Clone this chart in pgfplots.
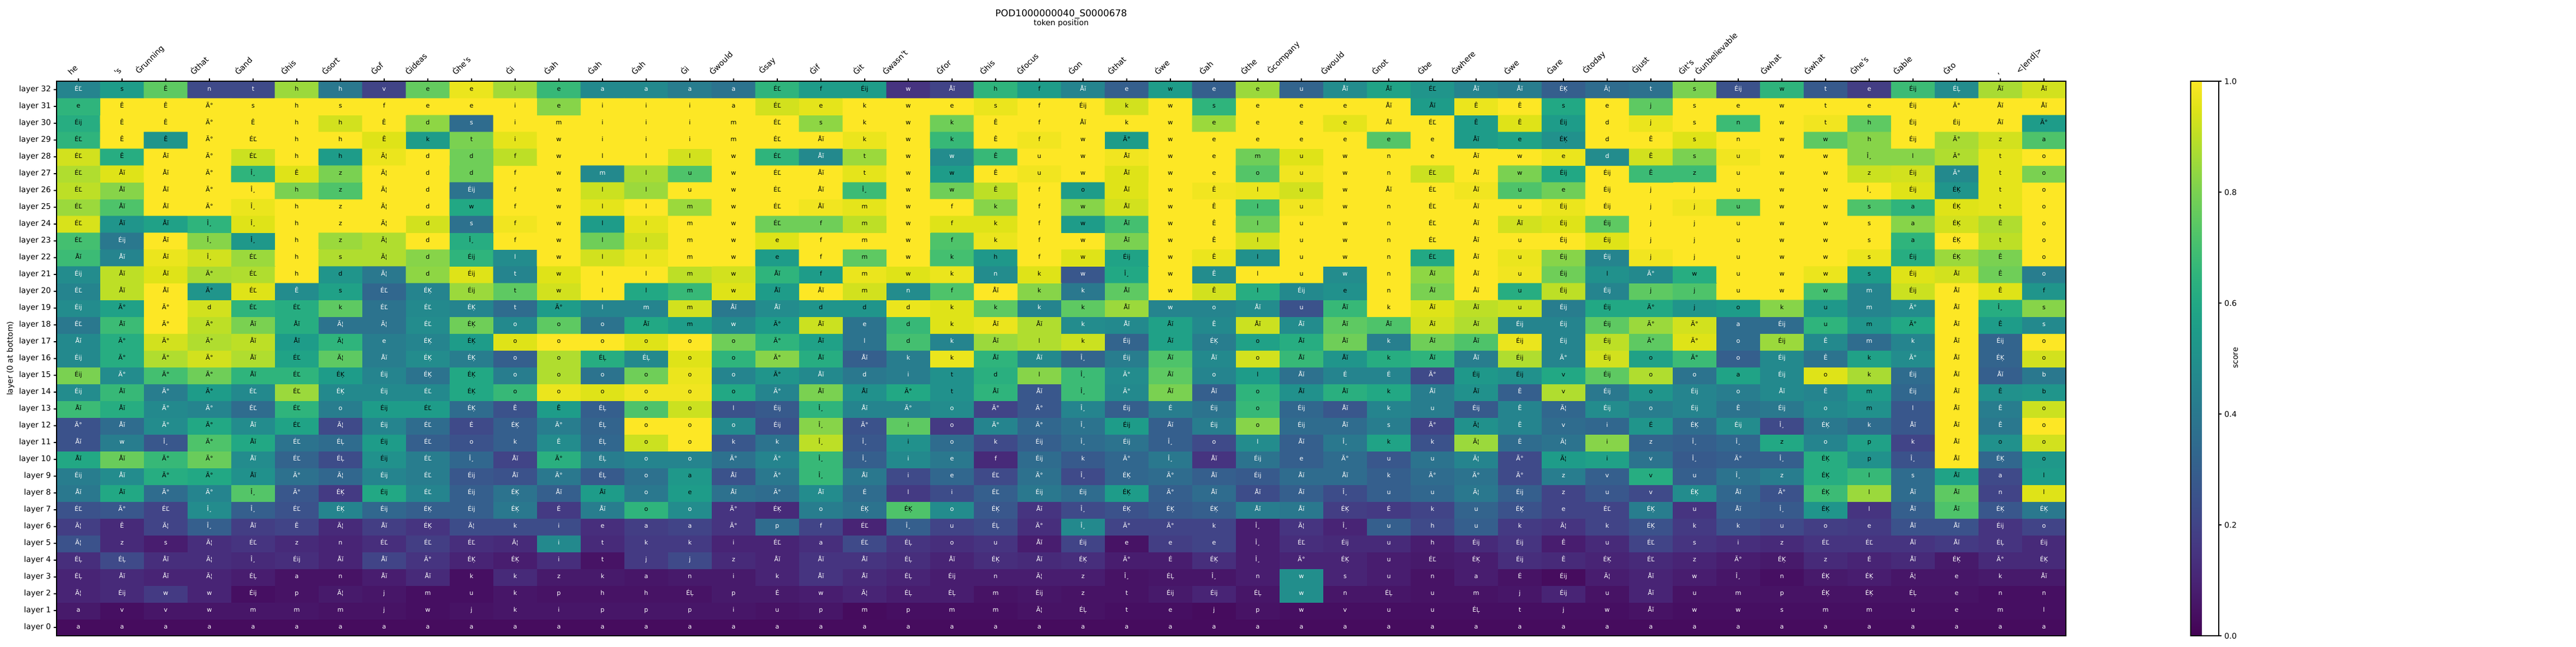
\documentclass[border=0pt]{standalone}
\usepackage{fontspec}
\setmainfont{DejaVu Sans}
\usepackage{graphicx}
\usepackage{pgfplots}
\usepackage{pgfplotstable}
\pgfplotsset{compat=1.18}
\newcommand\rl[1]{\rotatebox{45}{#1}}
\newcommand\ap{\textquotesingle}
\newcommand\cxe{\coordindex-46*floor((\coordindex+0.5)/46)}
\newcommand\cye{floor((\coordindex+0.5)/46)}
\pgfplotstableread[row sep=\\]{
v t\\%
.03 a\\.03 a\\.03 a\\.03 a\\.03 a\\.03 a\\.03 a\\.03 a\\.03 a\\.03 a\\.03 a\\.03 a\\.03 a\\.03 a\\.03 a\\.03 a\\.03 a\\.03 a\\.03 a\\.03 a\\.03 a\\.03 a\\.03 a\\.03 a\\.03 a\\.03 a\\.03 a\\.03 a\\.03 a\\.03 a\\.03 a\\.03 a\\.03 a\\.03 a\\.03 a\\.03 a\\.03 a\\.03 a\\.03 a\\.03 a\\.03 a\\.03 a\\.03 a\\.03 a\\.03 a\\.03 a\\%
.07 a\\.04 v\\.06 v\\.06 w\\.06 m\\.06 m\\.05 m\\.05 j\\.04 w\\.05 j\\.06 k\\.06 i\\.06 p\\.06 p\\.06 p\\.06 i\\.05 u\\.06 p\\.03 m\\.04 p\\.04 m\\.04 m\\.05 Ã¦\\.05 ÉĻ\\.04 t\\.04 e\\.03 j\\.05 p\\.04 w\\.04 v\\.04 u\\.04 u\\.04 ÉĻ\\.04 t\\.04 j\\.04 w\\.05 Åĭ\\.04 w\\.04 w\\.04 s\\.04 m\\.04 m\\.04 u\\.04 e\\.04 m\\.04 l\\%
.10 Ã¦\\.12 Éĳ\\.17 w\\.10 w\\.04 Éĳ\\.05 p\\.07 Ã¦\\.06 j\\.04 m\\.04 u\\.06 k\\.05 p\\.05 h\\.05 h\\.05 ÉĻ\\.07 p\\.07 É\\.08 w\\.10 Ã¦\\.08 ÉĻ\\.08 ÉĻ\\.05 m\\.06 Éĳ\\.05 z\\.05 t\\.07 Éĳ\\.10 Éĳ\\.06 ÉĻ\\.49 w\\.06 n\\.06 ÉĻ\\.05 u\\.05 m\\.06 j\\.10 Éĳ\\.05 u\\.10 Åĭ\\.05 u\\.05 m\\.05 p\\.05 ÉĶ\\.05 ÉĶ\\.05 ÉĻ\\.05 e\\.04 n\\.04 n\\%
.10 ÉĻ\\.12 Åĭ\\.10 Åĭ\\.10 Ã¦\\.08 ÉĻ\\.05 a\\.05 n\\.08 Åĭ\\.12 Åĭ\\.04 k\\.12 k\\.07 z\\.07 k\\.06 a\\.07 n\\.07 i\\.10 k\\.15 Åĭ\\.12 Åĭ\\.10 ÉĻ\\.08 Éĳ\\.08 n\\.08 Ã¦\\.08 z\\.05 Î¸\\.06 ÉĻ\\.06 Î¸\\.08 n\\.49 w\\.10 s\\.08 u\\.05 n\\.08 a\\.05 É\\.03 Éĳ\\.08 Ã¦\\.10 Åĭ\\.08 w\\.06 Î¸\\.04 n\\.07 ÉĶ\\.08 ÉĶ\\.06 Ã¦\\.06 e\\.07 k\\.07 Åĭ\\%
.13 ÉĻ\\.22 ÉĻ\\.13 Åĭ\\.13 Ã¦\\.12 Î¸\\.13 Éĳ\\.10 Åĭ\\.20 Åĭ\\.15 Ã°\\.10 ÉĶ\\.08 ÉĶ\\.13 i\\.05 t\\.17 j\\.22 j\\.12 z\\.10 Åĭ\\.15 Åĭ\\.15 Åĭ\\.13 ÉĻ\\.10 Åĭ\\.13 ÉĶ\\.12 Åĭ\\.13 ÉĶ\\.08 Ã°\\.08 É\\.13 ÉĶ\\.08 Î¸\\.10 Ã°\\.10 ÉĶ\\.08 u\\.07 ÉĽ\\.08 ÉĶ\\.13 Éĳ\\.12 Ê\\.10 ÉĶ\\.12 ÉĽ\\.10 z\\.08 Ã°\\.07 ÉĶ\\.12 z\\.10 É\\.12 Åĭ\\.07 ÉĶ\\.12 Ã°\\.12 ÉĶ\\%
.25 Ã¦\\.12 z\\.08 s\\.13 Ã¦\\.15 ÉĽ\\.12 z\\.10 n\\.13 ÉĽ\\.18 ÉĽ\\.13 ÉĽ\\.12 Ã¦\\.47 i\\.12 t\\.17 k\\.17 k\\.10 i\\.10 ÉĽ\\.13 a\\.22 ÉĽ\\.15 ÉĻ\\.13 o\\.15 u\\.08 Åĭ\\.20 Éĳ\\.05 e\\.18 e\\.20 e\\.08 Î¸\\.13 ÉĽ\\.12 Éĳ\\.12 u\\.08 h\\.12 Éĳ\\.15 Éĳ\\.08 Ê\\.12 u\\.20 ÉĽ\\.15 s\\.13 i\\.12 z\\.15 ÉĽ\\.15 ÉĽ\\.15 Åĭ\\.17 Åĭ\\.15 ÉĻ\\.12 Éĳ\\%
.18 Ã¦\\.12 Ê\\.20 Ã¦\\.30 Î¸\\.18 Åĭ\\.20 Ê\\.12 Ã¦\\.18 Åĭ\\.15 ÉĶ\\.23 Ã¦\\.23 k\\.23 i\\.13 e\\.18 a\\.20 a\\.15 Ã°\\.35 p\\.20 f\\.10 ÉĽ\\.30 Î¸\\.20 u\\.23 ÉĻ\\.13 Ã°\\.47 Î¸\\.20 Ã°\\.20 Ã°\\.20 k\\.08 Î¸\\.15 Ã¦\\.10 Î¸\\.30 u\\.22 h\\.30 u\\.17 k\\.15 Ã¦\\.20 k\\.25 ÉĶ\\.17 k\\.25 k\\.22 u\\.18 o\\.17 e\\.25 Åĭ\\.25 Åĭ\\.15 Éĳ\\.20 o\\%
.25 ÉĽ\\.27 Ã°\\.20 ÉĽ\\.48 Î¸\\.30 Î¸\\.25 ÉĽ\\.45 ÉĶ\\.33 Éĳ\\.30 ÉĶ\\.30 Éĳ\\.40 ÉĶ\\.17 É\\.42 Åĭ\\.65 o\\.48 o\\.15 Ã°\\.12 ÉĶ\\.42 o\\.38 ÉĶ\\.72 ÉĶ\\.48 o\\.27 ÉĶ\\.15 Åĭ\\.22 Î¸\\.25 ÉĶ\\.28 ÉĶ\\.30 ÉĶ\\.42 Åĭ\\.40 Åĭ\\.18 ÉĶ\\.17 É\\.20 k\\.32 u\\.25 ÉĶ\\.20 e\\.20 ÉĽ\\.42 ÉĶ\\.15 u\\.30 Åĭ\\.28 Î¸\\.52 ÉĶ\\.15 l\\.30 Åĭ\\.72 Åĭ\\.27 ÉĶ\\.40 ÉĶ\\%
.40 Åĭ\\.60 Åĭ\\.35 Ã°\\.45 Ã°\\.73 Î¸\\.27 Ã°\\.17 ÉĶ\\.60 Éĳ\\.45 ÉĽ\\.30 Éĳ\\.38 ÉĶ\\.30 Åĭ\\.55 Åĭ\\.40 o\\.55 e\\.37 Åĭ\\.35 Ã°\\.48 Åĭ\\.35 É\\.17 l\\.23 i\\.30 ÉĽ\\.40 Éĳ\\.35 Éĳ\\.55 ÉĶ\\.30 Ã°\\.35 Åĭ\\.23 Åĭ\\.30 Åĭ\\.23 Î¸\\.30 u\\.33 u\\.40 Ã¦\\.30 Éĳ\\.20 z\\.27 u\\.22 v\\.48 ÉĶ\\.33 Åĭ\\.25 Ã°\\.68 ÉĶ\\.85 l\\.35 Åĭ\\.75 Åĭ\\.20 n\\.95 l\\%
.42 Éĳ\\.48 Åĭ\\.62 Ã°\\.60 Ã°\\.50 Åĭ\\.37 Ã°\\.33 Ã¦\\.45 Éĳ\\.42 ÉĽ\\.27 Éĳ\\.25 Åĭ\\.40 Ã°\\.28 ÉĻ\\.37 o\\.53 a\\.25 Åĭ\\.40 Ã°\\.67 Î¸\\.40 Åĭ\\.22 i\\.33 e\\.22 ÉĽ\\.37 Ã°\\.22 Î¸\\.33 ÉĶ\\.35 Ã°\\.30 Åĭ\\.28 Éĳ\\.35 Åĭ\\.35 Åĭ\\.30 k\\.35 Ã°\\.38 Ã°\\.22 Ã°\\.42 z\\.30 v\\.62 v\\.30 u\\.38 Î¸\\.42 z\\.62 ÉĶ\\.67 l\\.35 s\\.58 Åĭ\\.22 a\\.55 l\\%
.60 Åĭ\\.77 Åĭ\\.67 Ã°\\.77 Ã°\\.48 Åĭ\\.32 ÉĽ\\.23 ÉĻ\\.50 Éĳ\\.42 ÉĽ\\.33 Î¸\\.20 Åĭ\\.63 Ã°\\.42 ÉĻ\\.45 o\\.45 o\\.37 Ã°\\.45 Ã°\\.67 Î¸\\.30 Î¸\\.47 i\\.40 e\\.12 f\\.35 Éĳ\\.28 k\\.33 Ã°\\.40 Î¸\\.15 Åĭ\\.38 Éĳ\\.30 e\\.35 Ã°\\.27 u\\.38 u\\.45 Ã¦\\.22 Ã°\\.55 Ã¦\\.57 i\\.38 v\\.28 Î¸\\.30 Ã°\\.30 Î¸\\.62 ÉĶ\\.50 p\\.25 Î¸\\1 Åĭ\\.33 ÉĶ\\.53 o\\%
.25 Åĭ\\.42 w\\.27 Î¸\\.72 Ã°\\.60 Åĭ\\.38 ÉĽ\\.35 ÉĻ\\.55 Éĳ\\.30 ÉĽ\\.25 o\\.30 k\\.48 Ê\\.33 ÉĻ\\.92 o\\1 o\\.27 k\\.38 k\\.90 Î¸\\.27 Î¸\\.50 i\\.35 o\\.22 k\\.30 Éĳ\\.35 Î¸\\.38 Éĳ\\.30 Î¸\\.22 o\\.48 l\\.30 Åĭ\\.40 Î¸\\.58 k\\.25 k\\.85 Ã¦\\.35 Ê\\.38 Ã¦\\.82 i\\.32 z\\.30 Î¸\\.33 Î¸\\.60 z\\.45 o\\.57 p\\.20 k\\1 Åĭ\\.50 o\\.93 o\\%
.25 Ã°\\.35 Åĭ\\.48 Ã°\\.60 Ã°\\.48 Åĭ\\.58 ÉĽ\\.22 Ã¦\\.45 Éĳ\\.35 ÉĽ\\.22 É\\.30 ÉĶ\\.42 Ã°\\.32 ÉĻ\\1 o\\1 o\\.47 o\\.25 Éĳ\\.82 Î¸\\.25 Ã°\\.75 i\\.17 o\\.45 Ã°\\.33 Ã°\\.38 Î¸\\.55 Éĳ\\.30 Åĭ\\.42 Éĳ\\.82 o\\.35 Éĳ\\.35 Åĭ\\.42 s\\.20 Ã°\\.50 Ã¦\\.45 Ê\\.35 v\\.33 i\\.52 É\\.35 ÉĶ\\.48 Éĳ\\.22 Î¸\\.40 ÉĶ\\.35 k\\.27 Åĭ\\1 Åĭ\\.40 Ê\\1 o\\%
.68 Åĭ\\.62 Åĭ\\.47 Ã°\\.45 Ã°\\.35 ÉĽ\\.65 ÉĽ\\.42 o\\.55 Éĳ\\.55 ÉĽ\\.35 ÉĶ\\.25 Ê\\.55 Ê\\.30 ÉĻ\\.72 o\\.92 o\\.25 l\\.28 Éĳ\\.65 Î¸\\.45 Åĭ\\.45 Ã°\\.48 o\\.20 Ã°\\.27 Ã°\\.45 Î¸\\.30 Éĳ\\.42 É\\.38 Éĳ\\.67 o\\.33 Éĳ\\.27 Åĭ\\.45 k\\.42 u\\.28 Éĳ\\.45 Ê\\.33 Ã¦\\.48 Éĳ\\.42 o\\.45 Éĳ\\.38 Ê\\.40 Éĳ\\.47 o\\.50 m\\.27 l\\1 Åĭ\\.42 Ê\\.92 o\\%
.48 Éĳ\\.67 Åĭ\\.42 Ã°\\.55 Ã°\\.47 ÉĽ\\.85 ÉĽ\\.47 ÉĶ\\.47 Éĳ\\.47 ÉĽ\\.60 ÉĶ\\.67 o\\.97 o\\.95 o\\.98 o\\.98 o\\.60 o\\.45 Ã°\\.80 Åĭ\\.50 Åĭ\\.60 Ã°\\.50 t\\.65 Åĭ\\.27 Åĭ\\.68 Î¸\\.47 Ã°\\.80 Åĭ\\.30 Åĭ\\.65 o\\.50 Åĭ\\.63 Åĭ\\.60 k\\.42 Åĭ\\.50 Åĭ\\.30 Ê\\.88 v\\.40 Éĳ\\.52 o\\.45 Éĳ\\.42 o\\.47 Åĭ\\.45 Ê\\.55 m\\.33 Éĳ\\1 Åĭ\\.50 Ê\\.52 b\\%
.80 Éĳ\\.48 Ã°\\.70 Ã°\\.78 Ã°\\.65 Åĭ\\.65 ÉĽ\\.55 ÉĶ\\.45 Éĳ\\.38 ÉĶ\\.60 ÉĶ\\.42 o\\.88 o\\.38 o\\.78 o\\.97 o\\.45 o\\.52 Ã°\\.47 Åĭ\\.40 d\\.42 i\\.50 t\\.63 d\\.82 l\\.68 Î¸\\.48 Ã°\\.75 Åĭ\\.45 o\\.55 l\\.37 Åĭ\\.45 É\\.45 É\\.22 Ã°\\.53 Éĳ\\.50 Éĳ\\.60 v\\.75 Éĳ\\.88 o\\.38 o\\.58 a\\.47 Éĳ\\.95 o\\.87 k\\.35 Éĳ\\1 Åĭ\\.30 Åĭ\\.40 b\\%
.47 Éĳ\\.62 Ã°\\.88 Ã°\\.93 Ã°\\.88 Åĭ\\.58 ÉĽ\\.75 Ã¦\\.42 Åĭ\\.48 ÉĶ\\.42 ÉĶ\\.30 o\\.88 o\\.62 ÉĻ\\.47 ÉĻ\\.95 o\\.65 o\\.82 Ã°\\.62 Åĭ\\.30 Åĭ\\.42 k\\.97 k\\.65 Åĭ\\.47 Åĭ\\.32 Î¸\\.42 Éĳ\\.72 Åĭ\\.47 Åĭ\\.93 o\\.67 Åĭ\\.52 Åĭ\\.62 k\\.65 Åĭ\\.42 Åĭ\\.88 Éĳ\\.45 Ã°\\.93 Éĳ\\.57 o\\.68 Ã°\\.30 o\\.47 Éĳ\\.38 Ê\\.57 k\\.48 Ã°\\1 Åĭ\\.32 ÉĶ\\.93 o\\%
.47 Åĭ\\.62 Ã°\\.93 Ã°\\.88 Ã°\\.90 Åĭ\\.55 Åĭ\\.65 Ã¦\\.42 e\\.45 ÉĶ\\.55 ÉĶ\\.95 o\\1 o\\1 o\\.95 o\\1 o\\.78 o\\.65 Ã°\\.57 Åĭ\\.38 l\\.70 d\\.45 k\\.85 Åĭ\\.88 l\\.92 k\\.32 Éĳ\\.57 Åĭ\\.42 ÉĶ\\.57 o\\.62 Åĭ\\.78 Åĭ\\.43 k\\.78 Åĭ\\.72 Åĭ\\.97 Éĳ\\.45 Éĳ\\.90 Éĳ\\.75 Ã°\\.95 Ã°\\.35 o\\.85 Éĳ\\.47 Ê\\.35 m\\.45 k\\1 Åĭ\\.32 Éĳ\\1 o\\%
.40 ÉĽ\\.68 Åĭ\\1 Ã°\\.90 Ã°\\.80 Åĭ\\.62 Åĭ\\.38 Ã¦\\.38 Ã¦\\.48 ÉĽ\\.78 ÉĶ\\.47 o\\.75 o\\.38 o\\.60 Åĭ\\.55 m\\.47 w\\.55 Ã°\\.92 Åĭ\\.38 e\\.67 d\\.95 k\\.97 Åĭ\\.88 Åĭ\\.48 k\\.47 Åĭ\\.57 Åĭ\\.47 Ê\\.92 Åĭ\\.48 Åĭ\\.75 Åĭ\\.72 Åĭ\\.93 Åĭ\\.88 Åĭ\\.45 Éĳ\\.45 Éĳ\\.75 Éĳ\\.85 Ã°\\.93 Ã°\\.35 a\\.35 Éĳ\\.65 u\\.52 m\\.60 Ã°\\1 Åĭ\\.55 Ê\\.47 s\\%
.48 Éĳ\\.57 Ã°\\1 Ã°\\.93 d\\.65 ÉĽ\\.62 ÉĽ\\.75 k\\.38 ÉĽ\\.47 ÉĽ\\.45 ÉĶ\\.35 t\\.55 Ã°\\.45 l\\.45 m\\.93 m\\.40 Åĭ\\.48 Åĭ\\.52 d\\.52 d\\.97 d\\.95 k\\.75 k\\.45 k\\.75 k\\.85 Åĭ\\.45 w\\.45 o\\.48 Åĭ\\.25 u\\.67 Åĭ\\1 k\\.95 Åĭ\\.90 Åĭ\\.92 u\\.42 Éĳ\\.60 Éĳ\\.60 Ã°\\.52 j\\.55 o\\.82 k\\.53 u\\.45 m\\.48 Ã°\\1 Åĭ\\.62 Î¸\\.82 s\\%
.45 ÉĽ\\.90 Åĭ\\1 Åĭ\\.52 Ã°\\.95 ÉĽ\\.48 Ê\\.57 s\\.33 ÉĽ\\.45 ÉĶ\\.85 Éĳ\\.75 t\\.93 w\\1 l\\.60 l\\.67 m\\.95 w\\.55 Åĭ\\1 Åĭ\\.93 m\\.48 n\\.72 f\\1 Åĭ\\.82 k\\.40 k\\.75 Åĭ\\1 w\\.93 Ê\\.62 l\\.47 Éĳ\\.50 e\\1 n\\.80 Åĭ\\1 Åĭ\\.62 u\\.90 Éĳ\\.45 Éĳ\\.75 j\\.72 j\\1 u\\1 w\\.70 w\\.45 m\\.92 Éĳ\\1 Åĭ\\.95 Ê\\.52 f\\%
.48 Éĳ\\.90 Åĭ\\.95 Åĭ\\.87 Ã°\\.88 ÉĽ\\1 h\\.52 d\\.40 Ã¦\\.83 d\\.95 Éĳ\\.45 t\\.95 w\\1 l\\1 l\\.90 m\\.93 w\\.65 Åĭ\\.55 f\\.97 m\\.95 w\\.97 k\\.48 n\\.95 k\\.27 w\\.60 Î¸\\1 w\\.48 Ê\\1 l\\1 u\\.48 w\\1 n\\.83 Åĭ\\1 Åĭ\\.98 u\\.78 Éĳ\\.50 l\\.47 Ã°\\.62 w\\1 u\\1 w\\.97 w\\.55 s\\.95 Éĳ\\.93 Åĭ\\.78 Ê\\.42 o\\%
.68 Åĭ\\.45 Åĭ\\.97 Åĭ\\.93 Î¸\\.85 ÉĽ\\1 h\\.88 s\\.88 Ã¦\\.82 d\\.65 Éĳ\\.48 l\\1 w\\.93 l\\.97 l\\1 m\\1 w\\.55 e\\1 f\\.75 m\\1 w\\.70 k\\.53 h\\1 f\\.95 w\\.58 Éĳ\\1 w\\.97 Ê\\.50 l\\1 u\\1 w\\1 n\\.60 ÉĽ\\1 Åĭ\\.97 u\\.82 Éĳ\\.45 Éĳ\\.98 j\\1 j\\1 u\\1 w\\1 w\\.97 s\\.62 Éĳ\\.85 ÉĶ\\.80 Ê\\1 o\\%
.70 ÉĽ\\.40 Éĳ\\1 Åĭ\\.82 Î¸\\.53 Î¸\\1 h\\.85 z\\.88 Ã¦\\1 d\\.62 Î¸\\1 f\\1 w\\.78 l\\.93 l\\1 m\\1 w\\.95 e\\1 f\\1 m\\1 w\\.72 f\\.97 k\\1 f\\1 w\\.80 Åĭ\\1 w\\1 Ê\\.93 l\\1 u\\1 w\\1 n\\1 ÉĽ\\1 Åĭ\\1 u\\1 Éĳ\\.95 Éĳ\\1 j\\1 j\\1 u\\1 w\\1 w\\1 s\\.65 a\\1 ÉĶ\\.90 t\\1 o\\%
.94 ÉĽ\\.52 Åĭ\\.57 Åĭ\\.65 Î¸\\.95 Î¸\\1 h\\1 z\\1 Ã¦\\.93 d\\.37 s\\.98 f\\1 w\\.55 l\\.96 l\\1 m\\1 w\\.78 ÉĽ\\.78 f\\.90 m\\1 w\\.95 f\\.95 k\\1 f\\.55 w\\.70 Åĭ\\1 w\\1 Ê\\.78 l\\1 u\\1 w\\1 n\\1 ÉĽ\\1 Åĭ\\.93 Åĭ\\.95 Éĳ\\.75 Éĳ\\1 j\\1 j\\1 u\\1 w\\1 w\\1 s\\.82 a\\.93 ÉĶ\\.88 Ê\\1 o\\%
.85 ÉĽ\\.72 Åĭ\\1 Åĭ\\1 Ã°\\.97 Î¸\\1 h\\1 z\\1 Ã¦\\1 d\\.60 w\\1 f\\1 w\\.96 l\\1 l\\.85 m\\1 w\\1 ÉĽ\\.98 Åĭ\\.96 m\\1 w\\1 f\\.82 k\\1 f\\.82 w\\.93 Åĭ\\1 w\\1 Ê\\.70 l\\.98 u\\1 w\\1 n\\1 ÉĽ\\1 Åĭ\\1 u\\.97 Éĳ\\1 Éĳ\\1 j\\.98 j\\.72 u\\1 w\\1 w\\.72 s\\.65 a\\.95 ÉĶ\\.96 t\\1 o\\%
.90 ÉĽ\\.82 Åĭ\\1 Åĭ\\1 Ã°\\1 Î¸\\.80 h\\.72 z\\1 Ã¦\\1 d\\.38 Éĳ\\1 f\\1 w\\.92 l\\.85 l\\1 u\\1 w\\1 ÉĽ\\1 Åĭ\\.68 Î¸\\1 w\\.78 w\\.90 Ê\\1 f\\.55 o\\.95 Åĭ\\1 w\\.98 Ê\\.97 l\\.93 u\\1 w\\1 Åĭ\\1 ÉĽ\\.98 Åĭ\\.72 u\\.78 e\\1 Éĳ\\1 j\\1 j\\1 u\\1 w\\1 w\\1 Î¸\\.95 Éĳ\\.52 ÉĶ\\.96 t\\1 o\\%
.88 ÉĽ\\.95 Åĭ\\1 Åĭ\\1 Ã°\\.65 Î¸\\.95 Ê\\.80 z\\1 Ã¦\\1 d\\.78 d\\1 f\\1 w\\.47 m\\.87 l\\.72 u\\1 w\\1 ÉĽ\\1 Åĭ\\.96 t\\1 w\\.55 w\\1 Ê\\.98 u\\1 w\\.95 Åĭ\\1 w\\1 e\\.73 o\\.98 u\\1 w\\1 n\\.92 ÉĽ\\1 Åĭ\\.80 w\\.60 Éĳ\\1 Éĳ\\.68 Ê\\.68 z\\1 u\\1 w\\1 w\\.92 z\\.93 Éĳ\\.47 Ã°\\.96 t\\.80 o\\%
.93 ÉĽ\\.62 Ê\\1 Åĭ\\1 Ã°\\.92 ÉĽ\\1 h\\.55 h\\.97 Ã¦\\1 d\\.78 d\\.90 f\\1 w\\1 l\\1 l\\.93 l\\1 w\\.65 ÉĽ\\.47 Åĭ\\.85 t\\1 w\\.48 w\\.67 Ê\\1 u\\1 w\\.98 Åĭ\\1 w\\1 e\\.78 m\\.95 u\\1 w\\1 n\\1 e\\1 Åĭ\\1 w\\.97 e\\.48 d\\.93 Ê\\.80 s\\.98 u\\1 w\\1 w\\.82 Î¸\\.82 l\\.88 Ã°\\.96 t\\1 o\\%
.65 ÉĽ\\1 Ê\\.52 Ê\\1 Ã°\\1 ÉĽ\\1 h\\1 h\\.95 Ê\\.55 k\\.80 t\\.96 i\\1 w\\1 i\\1 i\\1 i\\1 m\\1 ÉĽ\\1 Åĭ\\.97 k\\1 w\\.67 k\\1 Ê\\.98 f\\1 w\\.55 Ã°\\1 w\\1 e\\1 e\\1 e\\1 e\\.73 e\\1 e\\.55 Åĭ\\.58 e\\.50 ÉĶ\\1 d\\1 Ê\\.95 s\\1 n\\1 w\\.75 w\\.82 h\\1 Éĳ\\.87 Ã°\\.93 z\\.72 a\\%
.62 Éĳ\\1 Ê\\1 Ê\\1 Ã°\\1 Ê\\1 h\\.93 h\\1 Ê\\.83 d\\.35 s\\1 i\\1 m\\1 i\\1 i\\1 i\\1 m\\1 ÉĽ\\.83 s\\1 k\\1 w\\.78 k\\1 Ê\\1 f\\1 Åĭ\\1 k\\1 w\\.85 e\\1 e\\1 e\\.96 e\\1 Åĭ\\1 ÉĽ\\.55 Ê\\.95 Ê\\.55 Éĳ\\1 d\\.97 j\\1 s\\.68 n\\1 w\\.98 t\\.75 h\\1 Éĳ\\1 Éĳ\\1 Åĭ\\.55 Ã°\\%
.65 e\\1 Ê\\1 Ê\\1 Ã°\\1 s\\1 h\\1 s\\1 f\\1 e\\1 e\\1 i\\.82 e\\1 i\\1 i\\1 i\\1 a\\.93 ÉĽ\\.96 e\\1 k\\1 w\\1 e\\.97 s\\1 f\\1 Éĳ\\.93 k\\1 w\\.65 s\\1 e\\1 e\\1 e\\1 Åĭ\\.55 Åĭ\\.97 Ê\\1 Ê\\.60 s\\1 e\\.75 j\\1 s\\1 e\\1 w\\1 t\\1 e\\1 Éĳ\\1 Ã°\\1 Åĭ\\1 Åĭ\\%
.45 ÉĽ\\.55 s\\.75 Ê\\.22 n\\.22 t\\.85 h\\.40 h\\.20 v\\.76 e\\.97 e\\.86 i\\.67 e\\.47 a\\.47 a\\.42 a\\.38 a\\.65 ÉĽ\\.55 f\\.55 Éĳ\\.15 w\\.20 Åĭ\\.65 h\\.55 f\\.45 Åĭ\\.30 e\\.55 w\\.30 e\\.85 e\\.32 u\\.48 Åĭ\\.58 Åĭ\\.52 ÉĽ\\.45 Åĭ\\.42 Åĭ\\.30 ÉĶ\\.35 Ã¦\\.37 t\\.80 s\\.25 Éĳ\\.65 w\\.28 t\\.18 e\\.68 Éĳ\\.48 ÉĻ\\.87 Åĭ\\.93 Åĭ\\%
}\datatable
\pgfplotsset{
  celltext/.style={draw=none, mark=none, point meta=explicit symbolic, nodes near coords,
    every node near coord/.append style={anchor=center, inner sep=0pt, font=\fontsize{8bp}{9bp}\selectfont, text height=6.1bp, text depth=1.9bp}},
}
\begin{document}
\begin{tikzpicture}
\begin{axis}[
  name=main, at={(0bp,0bp)}, anchor=south west,
  scale only axis, width=2583.36bp, height=712.8bp,
  xmin=-0.5, xmax=45.5, ymin=-0.5, ymax=32.5, enlargelimits=false,
  axis on top,
  colormap={vir}{rgb255=(68,1,84) rgb255=(71,19,101) rgb255=(72,36,117) rgb255=(70,52,128) rgb255=(65,68,135) rgb255=(59,82,139) rgb255=(53,95,141) rgb255=(47,108,142) rgb255=(42,120,142) rgb255=(37,132,142) rgb255=(33,145,140) rgb255=(30,156,137) rgb255=(34,168,132) rgb255=(47,180,124) rgb255=(68,191,112) rgb255=(94,201,98) rgb255=(122,209,81) rgb255=(155,217,60) rgb255=(189,223,38) rgb255=(223,227,24) rgb255=(253,231,37)},
  point meta min=0, point meta max=1,
  xtick={0,...,45},
  xticklabels={\rl{he},\rl{\ap s},\rl{Ġrunning},\rl{Ġthat},\rl{Ġand},\rl{Ġhis},\rl{Ġsort},\rl{Ġof},\rl{Ġideas},\rl{Ġhe\ap s},\rl{Ġi},\rl{Ġah},\rl{Ġah},\rl{Ġah},\rl{Ġi},\rl{Ġwould},\rl{Ġsay},\rl{Ġif},\rl{Ġit},\rl{Ġwasn\ap t},\rl{Ġfor},\rl{Ġhis},\rl{Ġfocus},\rl{Ġon},\rl{Ġthat},\rl{Ġwe},\rl{Ġah},\rl{Ġthe},\rl{Ġcompany},\rl{Ġwould},\rl{Ġnot},\rl{Ġbe},\rl{Ġwhere},\rl{Ġwe},\rl{Ġare},\rl{Ġtoday},\rl{Ġjust},\rl{Ġit\ap s},\rl{Ġunbelievable},\rl{Ġwhat},\rl{Ġwhat},\rl{Ġhe\ap s},\rl{Ġable},\rl{Ġto},\rl{,},\rl{<|end|>}},
  xtick pos=right, xticklabel pos=right,
  ytick={0,...,32},
  yticklabels={layer 0,layer 1,layer 2,layer 3,layer 4,layer 5,layer 6,layer 7,layer 8,layer 9,layer 10,layer 11,layer 12,layer 13,layer 14,layer 15,layer 16,layer 17,layer 18,layer 19,layer 20,layer 21,layer 22,layer 23,layer 24,layer 25,layer 26,layer 27,layer 28,layer 29,layer 30,layer 31,layer 32},
  ytick pos=left,
  tick align=outside, major tick length=3.5bp,
  every tick/.style={black, line width=0.8bp},
  axis line style={line width=0.8bp},
  xticklabel style={anchor=south east, inner sep=0pt, font=\fontsize{10bp}{12bp}\selectfont},
  yticklabel style={anchor=east, inner sep=0pt, font=\fontsize{10bp}{12bp}\selectfont},
  xticklabel shift=3.5bp, yticklabel shift=3.5bp,
  colorbar,
  colorbar shift/.style={xshift=160.56bp},
  colorbar style={
    at={(parent axis.north east)}, anchor=north west,
    scale only axis, width=36bp, height=712.8bp,
    ymin=0, ymax=1,
    ytick={0,0.2,0.4,0.6,0.8,1},
    yticklabels={0.0,0.2,0.4,0.6,0.8,1.0},
    ytick pos=right, yticklabel pos=right,
    tick align=outside, major tick length=3.5bp,
    every tick/.style={black, line width=0.8bp},
    axis line style={line width=0.8bp},
    yticklabel style={anchor=west, inner sep=0pt, font=\fontsize{10bp}{12bp}\selectfont},
    yticklabel shift=3.5bp,
  },
]
\addplot[matrix plot*, mesh/cols=46, point meta=explicit]
  table[x expr=\cxe, y expr=\cye, meta=v] {\datatable};
\addplot[celltext, restrict expr to domain={\thisrow{v}}{0:0.4999},
  every node near coord/.append style={text=white}]
  table[x expr=\cxe, y expr=\cye, meta=t] {\datatable};
\addplot[celltext, restrict expr to domain={\thisrow{v}}{0.5:1},
  every node near coord/.append style={text=black}]
  table[x expr=\cxe, y expr=\cye, meta=t] {\datatable};
\end{axis}
\node[anchor=base, font=\fontsize{12bp}{14bp}\selectfont] at (1291.68bp,796.1bp) {POD1000000040\_S0000678};
\node[anchor=base, font=\fontsize{10bp}{12bp}\selectfont] at (1291.68bp,784.3bp) {token position};
\node[anchor=base, rotate=90, font=\fontsize{10bp}{12bp}\selectfont] at (-56.38bp,356.4bp) {layer (0 at bottom)};
\node[anchor=base, rotate=90, font=\fontsize{10bp}{12bp}\selectfont] at (2804.4bp,357.1bp) {score};
\pgfresetboundingbox
\path[use as bounding box] (-72.72bp,-14.4bp) rectangle (3239.28bp,817.2bp);
\end{tikzpicture}
\end{document}
